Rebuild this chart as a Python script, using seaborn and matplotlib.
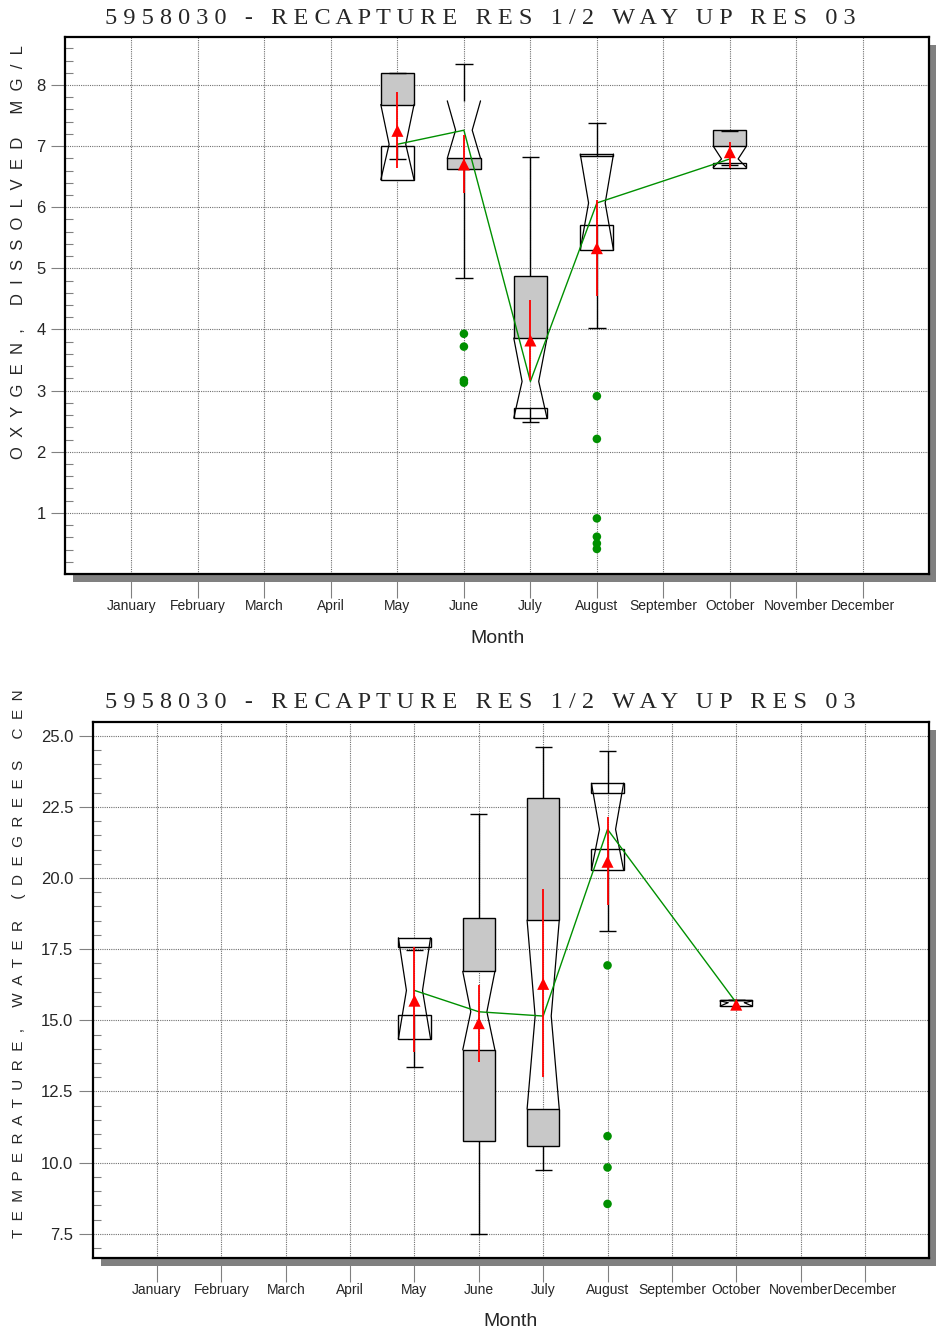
import matplotlib
matplotlib.use("Agg")
import matplotlib.pyplot as plt
from matplotlib import font_manager
from matplotlib.patches import Rectangle
from matplotlib.ticker import MultipleLocator, FixedLocator
import numpy as np
import seaborn as sns

months = ["January", "February", "March", "April", "May", "June", "July",
          "August", "September", "October", "November", "December"]
station = "5958030 - RECAPTURE RES 1/2 WAY UP RES 03"

# dissolved oxygen, mg/l  (May, Jun, Jul, Aug, Oct)
ox_month = [5, 6, 7, 8, 10]
ox_whislo = [6.79, 4.85, 2.48, 4.03, 6.69]
ox_q1 = [7.00, 6.63, 2.71, 5.71, 6.72]
ox_cilo = [6.45, 6.80, 2.55, 5.30, 6.65]
ox_med = [7.03, 7.26, 3.15, 6.07, 6.79]
ox_cihi = [7.68, 7.74, 3.86, 6.87, 7.00]
ox_q3 = [8.20, 7.74, 4.88, 6.84, 7.26]
ox_whishi = [8.20, 8.35, 6.82, 7.38, 7.25]
ox_mean = [7.25, 6.70, 3.82, 5.33, 6.90]
ox_mean_lo = [6.65, 6.23, 3.17, 4.54, 6.64]
ox_mean_hi = [7.88, 7.18, 4.48, 6.12, 7.06]
ox_out_month = [6, 6, 6, 6, 8, 8, 8, 8, 8, 8]
ox_out_val = [3.93, 3.72, 3.17, 3.13, 2.91, 2.21, 0.91, 0.61, 0.50, 0.41]

# water temperature, deg C
tw_month = [5, 6, 7, 8, 10]
tw_whislo = [13.35, 7.48, 9.74, 18.15, 15.70]
tw_q1 = [15.19, 10.76, 10.58, 21.01, 15.70]
tw_cilo = [14.35, 13.96, 11.88, 20.28, 15.50]
tw_med = [16.05, 15.30, 15.15, 21.71, 15.62]
tw_cihi = [17.90, 16.72, 18.52, 23.33, 15.68]
tw_q3 = [17.57, 18.58, 22.80, 22.98, 15.71]
tw_whishi = [17.47, 22.25, 24.61, 24.47, 15.72]
tw_mean = [15.69, 14.90, 16.28, 20.57, 15.55]
tw_mean_lo = [13.90, 13.52, 13.02, 19.05, 15.55]
tw_mean_hi = [17.57, 16.24, 19.60, 22.13, 15.55]
tw_out_month = [8, 8, 8, 8]
tw_out_val = [16.93, 10.93, 9.83, 8.55]

sns.set_theme(style="white")
installed = {f.name for f in font_manager.fontManager.ttflist}
narrow = "Liberation Sans Narrow" if "Liberation Sans Narrow" in installed else "Liberation Sans"
plt.rcParams["font.family"] = [narrow, "DejaVu Sans"]

GREEN = "#009000"
GRAY_BOX = "#c8c8c8"


def spaced(text, gap="  ", word_gap="     "):
    return word_gap.join(gap.join(word) for word in text.split(" "))


def draw_boxes(ax, month, whislo, q1, cilo, med, cihi, q3, whishi,
               mean, mean_lo, mean_hi, out_month, out_val):
    x = np.array(month, float)
    q1, q3 = np.array(q1), np.array(q3)
    cilo, cihi = np.array(cilo), np.array(cihi)
    w = 0.5
    # upper part of the box (q3 .. notch top), lower part (notch bottom .. q1)
    up_h = np.abs(q3 - cihi)
    lo_h = np.abs(cilo - q1)
    up_col = [GRAY_BOX if a > b else "white" for a, b in zip(q3, cihi)]
    lo_col = [GRAY_BOX if a > b else "white" for a, b in zip(cilo, q1)]
    ax.bar(x, up_h, bottom=np.minimum(q3, cihi), width=w, color=up_col,
           edgecolor="black", linewidth=np.where(up_h < 0.005, 0, 1), zorder=2)
    ax.bar(x, lo_h, bottom=np.minimum(cilo, q1), width=w, color=lo_col,
           edgecolor="black", linewidth=np.where(lo_h < 0.005, 0, 1), zorder=2)
    # notches
    for xi, lo, m, hi in zip(x, cilo, med, cihi):
        for side in (-1, 1):
            ax.plot([xi + side * w / 2, xi + side * w / 4, xi + side * w / 2],
                    [lo, m, hi], color="black", lw=0.9, zorder=3)
    # whiskers
    ax.vlines(x, q3, whishi, color="black", lw=1, zorder=2)
    ax.vlines(x, whislo, q1, color="black", lw=1, zorder=2)
    ax.hlines(whishi, x - 0.13, x + 0.13, color="black", lw=1, zorder=2)
    ax.hlines(whislo, x - 0.13, x + 0.13, color="black", lw=1, zorder=2)
    # medians joined
    sns.lineplot(x=month, y=med, color=GREEN, lw=1, ax=ax, zorder=4)
    # mean with its interval
    ax.vlines(x, mean_lo, mean_hi, color="red", lw=1.3, zorder=5)
    sns.scatterplot(x=month, y=mean, marker="^", color="red", s=75,
                    edgecolor="none", ax=ax, zorder=6)
    sns.scatterplot(x=out_month, y=out_val, color=GREEN, s=38,
                    edgecolor="none", ax=ax, zorder=5)


def style_axes(ax, ylim, major, minor, fmt):
    ax.set_facecolor("white")
    ax.set_xlim(0, 13)
    ax.set_xticks(range(1, 13))
    ax.set_xticklabels(months, fontsize=10)
    ticks = np.arange(np.ceil(ylim[0] / major + 1e-6) * major, ylim[1], major)
    ax.yaxis.set_major_locator(FixedLocator(ticks))
    ax.yaxis.set_minor_locator(MultipleLocator(minor))
    ax.set_yticklabels([fmt.format(v) for v in ticks], fontsize=12)
    ax.set_ylim(*ylim)
    ax.grid(True, which="major", color="#707070", linestyle=(0, (1, 1)), lw=0.8)
    ax.tick_params(axis="x", direction="out", length=17, color="#808080",
                   width=0.8, pad=1, bottom=True)
    ax.tick_params(axis="y", which="major", direction="out", length=10,
                   color="#808080", width=0.8, pad=4, left=True)
    ax.tick_params(axis="y", which="minor", direction="in", length=6,
                   color="#808080", width=0.8, left=True)
    for sp in ax.spines.values():
        sp.set_color("black")
        sp.set_linewidth(1.6)
    ax.set_xlabel("Month", fontsize=14, labelpad=12)
    ax.set_ylabel("")


W, H = 937, 1333
fig = plt.figure(figsize=(W / 100, H / 100), dpi=100)

panels = [
    dict(box=(65, 37.3, 929.3, 574), ylim=(0, 8.78), major=1, minor=0.2, fmt="{:.0f}",
         data=(ox_month, ox_whislo, ox_q1, ox_cilo, ox_med, ox_cihi, ox_q3, ox_whishi,
               ox_mean, ox_mean_lo, ox_mean_hi, ox_out_month, ox_out_val),
         title_y=18, ylabel="OXYGEN, DISSOLVED MG/L", ylabel_top=45, ylabel_size=12),
    dict(box=(92.7, 722.3, 929.3, 1257.7), ylim=(6.66, 25.47), major=2.5, minor=0.5,
         fmt="{:.1f}",
         data=(tw_month, tw_whislo, tw_q1, tw_cilo, tw_med, tw_cihi, tw_q3, tw_whishi,
               tw_mean, tw_mean_lo, tw_mean_hi, tw_out_month, tw_out_val),
         title_y=702, ylabel="TEMPERATURE, WATER (DEGREES CEN", ylabel_top=689,
         ylabel_size=11),
]

for p in panels:
    x0, y0, x1, y1 = p["box"]
    rect = [x0 / W, 1 - y1 / H, (x1 - x0) / W, (y1 - y0) / H]
    # drop shadow behind the frame
    fig.add_artist(Rectangle((rect[0] + 8 / W, rect[1] - 8 / H), rect[2], rect[3],
                             transform=fig.transFigure, facecolor="#808080",
                             edgecolor="none", zorder=-1))
    ax = fig.add_axes(rect)
    draw_boxes(ax, *p["data"])
    style_axes(ax, p["ylim"], p["major"], p["minor"], p["fmt"])
    fig.text(480 / W, 1 - p["title_y"] / H, spaced(station, " ", "   "), ha="center",
             va="center", fontsize=17.5, family="Liberation Serif")
    fig.text(19 / W, 1 - p["ylabel_top"] / H, spaced(p["ylabel"]),
             rotation=90, ha="center", va="top", fontsize=p["ylabel_size"],
             family="Liberation Sans")

fig.savefig("out.png", dpi=100)
